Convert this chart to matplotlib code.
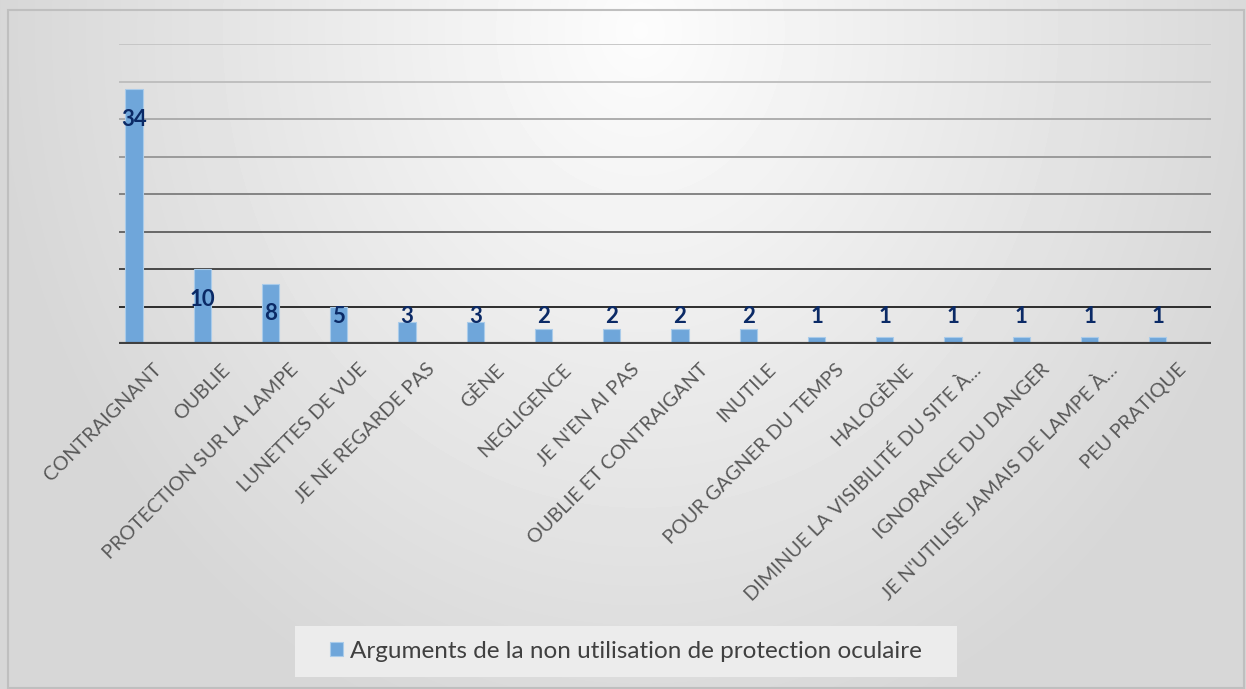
import numpy as np
import matplotlib.pyplot as plt
from matplotlib.patches import Rectangle

# Data
categories = ["CONTRAIGNANT", "OUBLIE", "PROTECTION SUR LA LAMPE", "LUNETTES DE VUE",
              "JE NE REGARDE PAS", "GÈNE", "NEGLIGENCE", "JE N'EN AI PAS",
              "OUBLIE ET CONTRAIGANT", "INUTILE", "POUR GAGNER DU TEMPS", "HALOGÈNE",
              "DIMINUE LA VISIBILITÉ DU SITE À...", "IGNORANCE DU DANGER",
              "JE N'UTILISE JAMAIS DE LAMPE À...", "PEU PRATIQUE"]
counts = [34, 10, 8, 5, 3, 3, 2, 2, 2, 2, 1, 1, 1, 1, 1, 1]
series_name = "Arguments de la non utilisation de protection oculaire"
grid_values = [5, 10, 15, 20, 25, 30, 35, 40]

plt.rcParams['font.family'] = ['Lato', 'DejaVu Sans']

fig = plt.figure(figsize=(12.46, 6.89), dpi=100)

# radial gradient background
bg = fig.add_axes([0, 0, 1, 1], zorder=-10)
W, H = 1246, 689
yy, xx = np.mgrid[0:H, 0:W]
r = np.sqrt(((xx - 640) / 700.0) ** 2 + ((yy - 30) / 800.0) ** 2)
shade = np.clip(0.99 - 0.16 * r, 0.84, 0.99)
bg.imshow(shade, cmap='gray', vmin=0, vmax=1, extent=[0, W, H, 0], aspect='auto')
bg.add_patch(Rectangle((8, 10), 1236, 678, fill=False, edgecolor='#bfbfbf', lw=1.5))
bg.set_xlim(0, W)
bg.set_ylim(H, 0)
bg.axis('off')

ax = fig.add_axes([119 / W, 1 - 344 / H, 1092 / W, 300 / H])
ax.patch.set_alpha(0)
x = np.arange(len(categories))
bar_x = x - 0.28  # bar sits left of category centre (Excel cluster slot)
ax.bar(bar_x, counts, width=0.25, color='#6FA6DA', edgecolor='#A9CBEA', linewidth=0.8,
       zorder=3, label=series_name)

grid_colors = ['#c4c4c4', '#bcbcbc', '#a8a8a8', '#959595', '#7c7c7c', '#5e5e5e', '#3c3c3c', '#1e1e1e']
for gv, gc in zip(grid_values, grid_colors[::-1]):
    ax.axhline(gv, color=gc, lw=1.3, zorder=1)
ax.axhline(0, color='#404040', lw=3, zorder=4)

for xi, v in zip(bar_x, counts):
    ax.text(xi, max(v - 4, 3.7), str(v), ha='center', va='center', fontsize=16,
            fontweight='bold', color='#0B2A66', zorder=5)

ax.set_xlim(-0.5, len(categories) - 0.5)
ax.set_ylim(0, 40)
ax.set_yticks([])
ax.set_xticks(x)
ax.set_xticklabels(categories, rotation=45, ha='right', rotation_mode='anchor',
                   fontsize=14.3, color='#595959')
ax.tick_params(axis='x', length=0, pad=12)
for s in ax.spines.values():
    s.set_visible(False)

# legend box
fig.patches.append(Rectangle((295 / W, 1 - 677 / H), 662 / W, 51 / H, transform=fig.transFigure,
                             facecolor='#ececec', edgecolor='none', zorder=0))
leg = fig.legend(loc='center', bbox_to_anchor=(626 / W, 1 - 651 / H), frameon=False,
                 fontsize=17.5, handlelength=0.55, handleheight=0.55, handletextpad=0.3)
for t in leg.get_texts():
    t.set_color('#404040')

fig.savefig('out.png', dpi=100)
